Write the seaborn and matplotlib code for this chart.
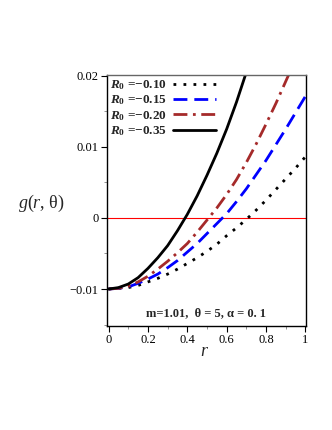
import matplotlib
matplotlib.use("Agg")
import matplotlib.pyplot as plt
import numpy as np
import pandas as pd
import seaborn as sns
from matplotlib.ticker import MultipleLocator, FixedLocator, FixedFormatter

sns.set_theme(style="ticks")
plt.rcParams["font.family"] = ["Liberation Serif", "DejaVu Serif"]
plt.rcParams["mathtext.fontset"] = "custom"
plt.rcParams["mathtext.rm"] = "Liberation Serif"
plt.rcParams["mathtext.it"] = "Liberation Serif:italic"
plt.rcParams["mathtext.bf"] = "Liberation Serif:bold"
plt.rcParams["mathtext.bfit"] = "Liberation Serif:italic:bold"

# data
r = [0.0, 0.05, 0.1, 0.15, 0.2, 0.25, 0.3, 0.35, 0.4, 0.45, 0.5,
     0.55, 0.6, 0.65, 0.7, 0.75, 0.8, 0.85, 0.9, 0.95, 1.0]
g_010 = [-0.0100, -0.0099, -0.0098, -0.0095, -0.0090, -0.0085, -0.0079, -0.0072, -0.0064, -0.0056, -0.0047,
         -0.0037, -0.0025, -0.0014, -0.0002, 0.0011, 0.0025, 0.0040, 0.0055, 0.0070, 0.0086]
g_015 = [-0.0100, -0.0099, -0.0097, -0.0092, -0.0086, -0.0079, -0.0070, -0.0060, -0.0048, -0.0036, -0.0022,
         -0.0008, 0.0006, 0.0023, 0.0041, 0.0061, 0.0081, 0.0103, 0.0125, 0.0148, 0.0171]
g_020 = [-0.0100, -0.0099, -0.0096, -0.0090, -0.0082, -0.0072, -0.0061, -0.0049, -0.0036, -0.0020, -0.0003,
         0.0014, 0.0033, 0.0054, 0.0078, 0.0104, 0.0132, 0.0161, 0.0192, 0.0223, 0.0255]
g_035 = [-0.0100, -0.0098, -0.0093, -0.0084, -0.0071, -0.0056, -0.0039, -0.0018, 0.0005, 0.0031, 0.0060,
         0.0091, 0.0125, 0.0163, 0.0205, 0.0250, 0.0298, 0.0350, 0.0405, 0.0463, 0.0525]

labels = [r"$\mathbfit{R}_{\mathbf{0}}$ =−0.10", r"$\mathbfit{R}_{\mathbf{0}}$ =−0.15",
          r"$\mathbfit{R}_{\mathbf{0}}$ =−0.20", r"$\mathbfit{R}_{\mathbf{0}}$ =−0.35"]
series = [g_010, g_015, g_020, g_035]
colors = ["black", "#0000ff", "#a52a2a", "black"]
styles = [(0, (1, 2.6)), (0, (5, 2.5)), (0, (5, 2, 1, 2)), "-"]

fig = plt.figure(figsize=(3.32, 4.30), dpi=100)
ax = fig.add_axes([107 / 332, 1 - 326 / 430, 199 / 332, 251 / 430])

ax.axhline(0, color="red", lw=0.8, zorder=1)
for vals, lab, c, ls in zip(series, labels, colors, styles):
    sns.lineplot(x=r, y=vals, ax=ax, color=c, linestyle=ls, lw=2, label=lab)

ax.set_xlim(-0.008, 1.003)
ax.set_ylim(-0.0152, 0.0201)
ax.xaxis.set_major_locator(FixedLocator([0, 0.2, 0.4, 0.6, 0.8, 1.0]))
ax.xaxis.set_major_formatter(FixedFormatter(["0", "0.2", "0.4", "0.6", "0.8", "1"]))
ax.xaxis.set_minor_locator(MultipleLocator(0.1))
ax.yaxis.set_major_locator(FixedLocator([-0.01, 0, 0.01, 0.02]))
ax.yaxis.set_major_formatter(FixedFormatter(["−0.01", "0", "0.01", "0.02"]))
ax.yaxis.set_minor_locator(MultipleLocator(0.005))
ax.tick_params(which="major", direction="out", length=4, width=0.8, labelsize=9, colors="black", pad=2)
ax.tick_params(which="minor", direction="out", length=2, width=0.6, colors="gray")
for s in ax.spines.values():
    s.set_color("black")
    s.set_linewidth(1.0)
ax.spines["top"].set_color("#666666")
ax.set_xlabel("")
ax.set_ylabel("")

leg = ax.legend(loc="upper left", frameon=False, markerfirst=False, handlelength=3.3,
                labelspacing=0.12, borderaxespad=0.05, handletextpad=0.4, borderpad=0.2,
                prop={"weight": "bold", "size": 9.5, "family": "Liberation Serif"})

ax.text(0.5, 0.052, "m=1.01,  θ = 5, α = 0. 1", transform=ax.transAxes, ha="center",
        va="center", fontweight="bold", fontsize=9)

fig.text(41 / 332, 1 - 203 / 430, r"$g$($r$, θ)", ha="center", va="center", fontsize=13)
fig.text(205 / 332, 1 - 352 / 430, r"$r$", ha="center", va="center", fontsize=13)

fig.savefig("out.png", dpi=100, facecolor="white")
